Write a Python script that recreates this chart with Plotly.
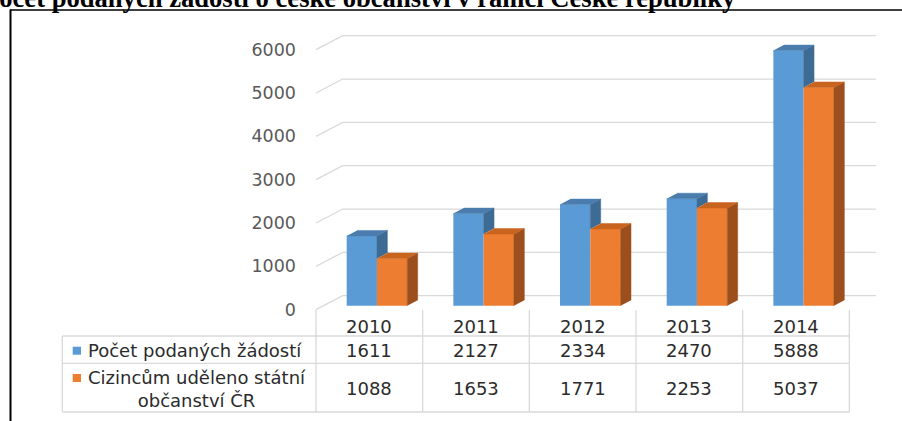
import plotly.graph_objects as go

# ---------------- data ----------------
years = ["2010", "2011", "2012", "2013", "2014"]
pocet_zadosti = [1611, 2127, 2334, 2470, 5888]
udeleno = [1088, 1653, 1771, 2253, 5037]
series_names = ["Počet podaných žádostí", "Cizincům uděleno státní<br>občanství ČR"]
y_ticks = [0, 1000, 2000, 3000, 4000, 5000, 6000]
title_text = "Počet podaných žádostí o české občanství v rámci České republiky"

# ---------------- geometry / style ----------------
W, H = 902, 421
X0_PX = 316.0       # pixel of category origin (front plane)
CAT_PX = 106.67     # pixels per category
Y0_PX = 309.7       # pixel of value 0 (front plane)
VAL_PX = 0.043333   # pixels per value unit

DEPTH_X = 0.25      # back wall shift (category units)
DEPTH_Y = 323.0     # back wall shift (value units)
BAR_FRONT = 0.286   # depth fraction of bar front faces
BAR_DEPTH = 0.39    # depth fraction of bar thickness
BAR_W = 0.284       # bar width (category units)

BLUE, BLUE_SIDE, BLUE_TOP = "#5B9BD5", "#3D6B94", "#4A7DAE"
ORANGE, ORANGE_SIDE, ORANGE_TOP = "#ED7D31", "#9C4E1C", "#C9641F"
GRID = "#D9D9D9"
FONT = "DejaVu Sans"


def px(p):   # paper x from pixel
    return p / W


def py(p):   # paper y from pixel (top origin)
    return 1 - p / H


n = len(years)
fig = go.Figure()
shapes = []

# back-wall gridlines with floor diagonals (drawn below the bars)
for v in y_ticks:
    path = "M {a},{b} L {c},{d} L {e},{d}".format(a=0, b=v, c=DEPTH_X, d=v + DEPTH_Y,
                                                  e=n + DEPTH_X)
    shapes.append(dict(type="path", xref="x", yref="y", path=path, layer="below",
                       line=dict(color=GRID, width=1.3)))

# bar front faces
centers = [i + 0.5 + BAR_FRONT * DEPTH_X for i in range(n)]
base = BAR_FRONT * DEPTH_Y
fig.add_trace(go.Bar(x=centers, y=pocet_zadosti, base=base, width=BAR_W, offset=-BAR_W,
                     marker=dict(color=BLUE, line=dict(width=0)), name=series_names[0],
                     showlegend=False))
fig.add_trace(go.Bar(x=centers, y=udeleno, base=base, width=BAR_W, offset=0,
                     marker=dict(color=ORANGE, line=dict(width=0)), name=series_names[1],
                     showlegend=False))

# 3D side and top faces
dx, dy = BAR_DEPTH * DEPTH_X, BAR_DEPTH * DEPTH_Y
bs_x, bs_y, bt_x, bt_y, os_x, os_y, ot_x, ot_y = ([] for _ in range(8))
for c, bv, ov in zip(centers, pocet_zadosti, udeleno):
    bx0, bx1 = c - BAR_W, c
    ox0, ox1 = c, c + BAR_W
    btop, otop = base + bv, base + ov
    if bv > ov:
        bs_x += [bx1, bx1, bx1 + dx, bx1 + dx, None]
        bs_y += [otop, btop, btop + dy, otop + dy, None]
    bt_x += [bx0, bx1, bx1 + dx, bx0 + dx, None]
    bt_y += [btop, btop, btop + dy, btop + dy, None]
    os_x += [ox1, ox1, ox1 + dx, ox1 + dx, None]
    os_y += [base, otop, otop + dy, base + dy, None]
    ot_x += [ox0, ox1, ox1 + dx, ox0 + dx, None]
    ot_y += [otop, otop, otop + dy, otop + dy, None]

for xs, ys, col in [(bs_x, bs_y, BLUE_SIDE), (bt_x, bt_y, BLUE_TOP),
                    (os_x, os_y, ORANGE_SIDE), (ot_x, ot_y, ORANGE_TOP)]:
    fig.add_trace(go.Scatter(x=xs, y=ys, mode="lines", fill="toself", fillcolor=col,
                             line=dict(color=col, width=0.5), hoverinfo="skip",
                             showlegend=False))

# ---------------- data table ----------------
TBL_L = 62.3
HDR_T, ROW1_T, ROW2_T, TBL_B = 310, 336, 363.3, 412
for k in range(n + 1):
    shapes.append(dict(type="line", xref="x", yref="paper", x0=k, x1=k,
                       y0=py(HDR_T), y1=py(TBL_B), line=dict(color=GRID, width=1.3)))
shapes.append(dict(type="line", xref="paper", yref="paper", x0=px(TBL_L), x1=px(TBL_L),
                   y0=py(ROW1_T), y1=py(TBL_B), line=dict(color=GRID, width=1.3)))
for yy in [ROW1_T, ROW2_T, TBL_B]:
    shapes.append(dict(type="line", xref="paper", yref="paper", x0=px(TBL_L),
                       x1=px(X0_PX + n * CAT_PX), y0=py(yy), y1=py(yy),
                       line=dict(color=GRID, width=1.3)))
# legend keys
for (top, col) in [(346.7, BLUE), (374.0, ORANGE)]:
    shapes.append(dict(type="rect", xref="paper", yref="paper", x0=px(72.7), x1=px(81),
                       y0=py(top + 8), y1=py(top), fillcolor=col, line=dict(width=0)))

# frame
shapes.append(dict(type="line", xref="paper", yref="paper", x0=px(10), x1=1,
                   y0=py(10), y1=py(10), line=dict(color="black", width=1.6)))
shapes.append(dict(type="line", xref="paper", yref="paper", x0=px(10.5), x1=px(10.5),
                   y0=py(9.5), y1=0, line=dict(color="black", width=2)))

annotations = []
TXT = dict(family=FONT, size=18, color="#2B2B2B")
for i, yr in enumerate(years):
    annotations.append(dict(x=i + 0.5, y=py(326.5), xref="x", yref="paper", text=yr,
                            showarrow=False, font=TXT, xanchor="center", yanchor="middle"))
    annotations.append(dict(x=i + 0.5, y=py(350), xref="x", yref="paper",
                            text=str(pocet_zadosti[i]), showarrow=False, font=TXT,
                            xanchor="center", yanchor="middle"))
    annotations.append(dict(x=i + 0.5, y=py(388.5), xref="x", yref="paper",
                            text=str(udeleno[i]), showarrow=False, font=TXT,
                            xanchor="center", yanchor="middle"))
annotations.append(dict(x=px(86), y=py(350), xref="paper", yref="paper",
                        text=series_names[0], showarrow=False, font=TXT,
                        xanchor="left", yanchor="middle"))
annotations.append(dict(x=px(86), y=py(388.5), xref="paper", yref="paper",
                        text=series_names[1], showarrow=False, font=TXT, align="center",
                        xanchor="left", yanchor="middle"))
# title (left part cut off by the page edge)
annotations.append(dict(x=px(-19), y=py(15), xref="paper", yref="paper",
                        text="<b>" + title_text + "</b>", showarrow=False,
                        font=dict(family="Liberation Serif", size=26.6, color="black"),
                        xanchor="left", yanchor="bottom"))

fig.update_layout(
    width=W, height=H,
    margin=dict(l=0, r=0, t=0, b=0),
    paper_bgcolor="white", plot_bgcolor="white",
    barmode="overlay",
    showlegend=False,
    xaxis=dict(visible=False, range=[(0 - X0_PX) / CAT_PX, (W - X0_PX) / CAT_PX],
               domain=[0, 1], fixedrange=True),
    yaxis=dict(range=[(Y0_PX - H) / VAL_PX, Y0_PX / VAL_PX], domain=[0, 1],
               anchor="free", position=px(296), side="left",
               tickvals=y_ticks, ticktext=[str(v) for v in y_ticks], ticks="",
               showgrid=False, zeroline=False, showline=False,
               tickfont=dict(family=FONT, size=17.5, color="#595959"), fixedrange=True),
    shapes=shapes,
    annotations=annotations,
)

fig.write_html("out.html", config={"displayModeBar": False},
               post_script="document.body.style.margin='0px';document.body.style.overflow='hidden';")
